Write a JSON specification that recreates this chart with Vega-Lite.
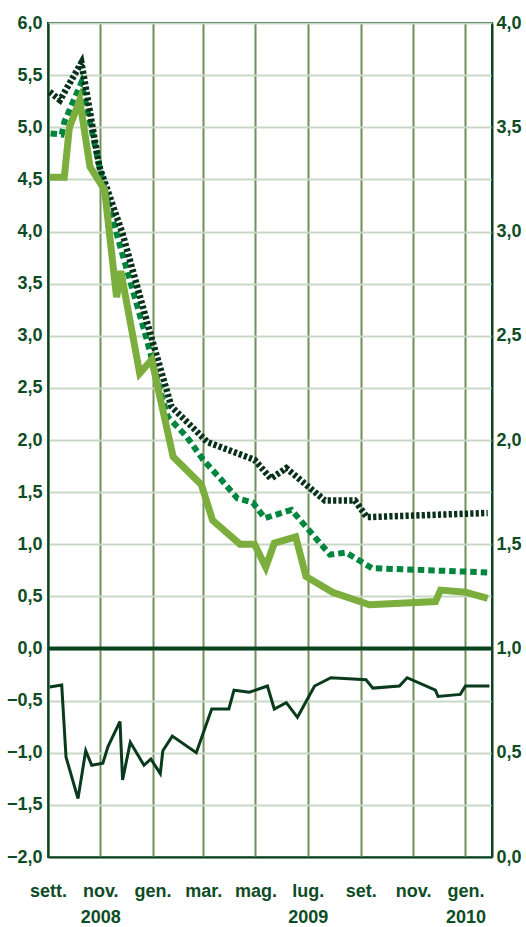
{
  "$schema": "https://vega.github.io/schema/vega-lite/v6.json",
  "width": 444,
  "height": 834,
  "autosize": {"type": "none"},
  "padding": {"left": 48, "top": 23, "right": 34, "bottom": 70},
  "background": "white",
  "config": {
    "view": {"stroke": "#0b4220", "strokeWidth": 2},
    "axis": {
      "labelFont": "Liberation Sans",
      "labelFontSize": 18,
      "labelFontWeight": "bold",
      "labelColor": "#0e4c25",
      "ticks": false,
      "tickSize": 0,
      "domainColor": "#0b4220",
      "domainWidth": 2,
      "title": null
    }
  },
  "data": {
    "values": [
      {"series": "solid", "date": "2008-09-03", "value": 4.52},
      {"series": "solid", "date": "2008-09-20", "value": 4.52},
      {"series": "solid", "date": "2008-09-26", "value": 5.0},
      {"series": "solid", "date": "2008-10-08", "value": 5.26},
      {"series": "solid", "date": "2008-10-20", "value": 4.62},
      {"series": "solid", "date": "2008-11-06", "value": 4.4},
      {"series": "solid", "date": "2008-11-20", "value": 3.37},
      {"series": "solid", "date": "2008-11-25", "value": 3.62},
      {"series": "solid", "date": "2008-12-17", "value": 2.64},
      {"series": "solid", "date": "2008-12-31", "value": 2.77},
      {"series": "solid", "date": "2009-01-25", "value": 1.84},
      {"series": "solid", "date": "2009-02-27", "value": 1.57},
      {"series": "solid", "date": "2009-03-12", "value": 1.23},
      {"series": "solid", "date": "2009-04-13", "value": 1.0},
      {"series": "solid", "date": "2009-04-30", "value": 1.0},
      {"series": "solid", "date": "2009-05-13", "value": 0.78},
      {"series": "solid", "date": "2009-05-23", "value": 1.01},
      {"series": "solid", "date": "2009-06-17", "value": 1.07},
      {"series": "solid", "date": "2009-06-29", "value": 0.69},
      {"series": "solid", "date": "2009-07-30", "value": 0.54},
      {"series": "solid", "date": "2009-09-11", "value": 0.42},
      {"series": "solid", "date": "2009-11-27", "value": 0.45},
      {"series": "solid", "date": "2009-12-03", "value": 0.56},
      {"series": "solid", "date": "2010-01-01", "value": 0.54},
      {"series": "solid", "date": "2010-01-27", "value": 0.48},

      {"series": "dotted", "date": "2008-09-03", "value": 5.34},
      {"series": "dotted", "date": "2008-09-15", "value": 5.26},
      {"series": "dotted", "date": "2008-10-10", "value": 5.62},
      {"series": "dotted", "date": "2008-10-31", "value": 4.62},
      {"series": "dotted", "date": "2008-11-27", "value": 3.98},
      {"series": "dotted", "date": "2008-12-29", "value": 3.03},
      {"series": "dotted", "date": "2009-01-23", "value": 2.32},
      {"series": "dotted", "date": "2009-03-06", "value": 1.98},
      {"series": "dotted", "date": "2009-04-30", "value": 1.81},
      {"series": "dotted", "date": "2009-05-19", "value": 1.63},
      {"series": "dotted", "date": "2009-06-06", "value": 1.73},
      {"series": "dotted", "date": "2009-07-21", "value": 1.42},
      {"series": "dotted", "date": "2009-08-25", "value": 1.42},
      {"series": "dotted", "date": "2009-09-08", "value": 1.26},
      {"series": "dotted", "date": "2010-01-27", "value": 1.3},

      {"series": "dashed", "date": "2008-09-04", "value": 4.94},
      {"series": "dashed", "date": "2008-09-17", "value": 4.93},
      {"series": "dashed", "date": "2008-09-20", "value": 5.05},
      {"series": "dashed", "date": "2008-10-10", "value": 5.43},
      {"series": "dashed", "date": "2008-11-04", "value": 4.47},
      {"series": "dashed", "date": "2008-11-20", "value": 3.98},
      {"series": "dashed", "date": "2008-12-23", "value": 3.03},
      {"series": "dashed", "date": "2009-01-13", "value": 2.38},
      {"series": "dashed", "date": "2009-01-19", "value": 2.22},
      {"series": "dashed", "date": "2009-02-10", "value": 2.03},
      {"series": "dashed", "date": "2009-03-01", "value": 1.81},
      {"series": "dashed", "date": "2009-03-21", "value": 1.63},
      {"series": "dashed", "date": "2009-04-10", "value": 1.44},
      {"series": "dashed", "date": "2009-04-28", "value": 1.4},
      {"series": "dashed", "date": "2009-05-12", "value": 1.25},
      {"series": "dashed", "date": "2009-06-12", "value": 1.33},
      {"series": "dashed", "date": "2009-07-27", "value": 0.9},
      {"series": "dashed", "date": "2009-08-15", "value": 0.92},
      {"series": "dashed", "date": "2009-09-14", "value": 0.77},
      {"series": "dashed", "date": "2010-01-27", "value": 0.73},

      {"series": "thin", "date": "2008-09-03", "value": 0.815},
      {"series": "thin", "date": "2008-09-17", "value": 0.825},
      {"series": "thin", "date": "2008-09-22", "value": 0.48},
      {"series": "thin", "date": "2008-10-06", "value": 0.28},
      {"series": "thin", "date": "2008-10-15", "value": 0.51},
      {"series": "thin", "date": "2008-10-22", "value": 0.44},
      {"series": "thin", "date": "2008-11-04", "value": 0.45},
      {"series": "thin", "date": "2008-11-10", "value": 0.53},
      {"series": "thin", "date": "2008-11-24", "value": 0.65},
      {"series": "thin", "date": "2008-11-27", "value": 0.37},
      {"series": "thin", "date": "2008-12-06", "value": 0.55},
      {"series": "thin", "date": "2008-12-22", "value": 0.44},
      {"series": "thin", "date": "2008-12-30", "value": 0.47},
      {"series": "thin", "date": "2009-01-10", "value": 0.4},
      {"series": "thin", "date": "2009-01-13", "value": 0.51},
      {"series": "thin", "date": "2009-01-24", "value": 0.58},
      {"series": "thin", "date": "2009-02-21", "value": 0.5},
      {"series": "thin", "date": "2009-03-11", "value": 0.71},
      {"series": "thin", "date": "2009-03-31", "value": 0.71},
      {"series": "thin", "date": "2009-04-06", "value": 0.8},
      {"series": "thin", "date": "2009-04-24", "value": 0.79},
      {"series": "thin", "date": "2009-05-15", "value": 0.82},
      {"series": "thin", "date": "2009-05-23", "value": 0.71},
      {"series": "thin", "date": "2009-06-06", "value": 0.74},
      {"series": "thin", "date": "2009-06-19", "value": 0.67},
      {"series": "thin", "date": "2009-07-09", "value": 0.82},
      {"series": "thin", "date": "2009-07-28", "value": 0.86},
      {"series": "thin", "date": "2009-09-07", "value": 0.85},
      {"series": "thin", "date": "2009-09-15", "value": 0.81},
      {"series": "thin", "date": "2009-10-16", "value": 0.82},
      {"series": "thin", "date": "2009-10-25", "value": 0.86},
      {"series": "thin", "date": "2009-11-27", "value": 0.8},
      {"series": "thin", "date": "2009-11-30", "value": 0.77},
      {"series": "thin", "date": "2009-12-26", "value": 0.78},
      {"series": "thin", "date": "2010-01-01", "value": 0.82},
      {"series": "thin", "date": "2010-01-29", "value": 0.82}
    ]
  },
  "encoding": {
    "x": {
      "field": "date",
      "type": "temporal",
      "scale": {
        "type": "utc",
        "domain": [
          {"year": 2008, "month": 9, "date": 1, "utc": true},
          {"year": 2010, "month": 2, "date": 1, "utc": true}
        ]
      },
      "axis": {
        "values": [
          {"year": 2008, "month": 9, "date": 1, "utc": true},
          {"year": 2008, "month": 11, "date": 1, "utc": true},
          {"year": 2009, "month": 1, "date": 1, "utc": true},
          {"year": 2009, "month": 3, "date": 1, "utc": true},
          {"year": 2009, "month": 5, "date": 1, "utc": true},
          {"year": 2009, "month": 7, "date": 1, "utc": true},
          {"year": 2009, "month": 9, "date": 1, "utc": true},
          {"year": 2009, "month": 11, "date": 1, "utc": true},
          {"year": 2010, "month": 1, "date": 1, "utc": true}
        ],
        "grid": true,
        "gridColor": "#6f8f5b",
        "gridWidth": 2,
        "labelFlush": false,
        "labelOverlap": false,
        "labelPadding": 25,
        "labelLineHeight": 26,
        "labelBaseline": "top",
        "labelAlign": "center",
        "labelExpr": "utcyear(datum.value)==2008 && utcmonth(datum.value)==8 ? 'sett.' : utcyear(datum.value)==2008 && utcmonth(datum.value)==10 ? ['nov.','2008'] : utcmonth(datum.value)==6 ? ['lug.','2009'] : utcyear(datum.value)==2010 ? ['gen.','2010'] : ['gen.','feb.','mar.','apr.','mag.','giu.','lug.','ago.','set.','ott.','nov.','dic.'][utcmonth(datum.value)]"
      }
    }
  },
  "layer": [
    {
      "layer": [
        {
          "transform": [{"filter": "datum.series == 'dashed'"}],
          "mark": {"type": "line", "color": "#00853e", "strokeWidth": 6, "strokeDash": [6.5, 4], "strokeJoin": "miter"},
          "encoding": {
            "y": {
              "field": "value",
              "type": "quantitative",
              "scale": {"domain": [-2, 6], "nice": false, "zero": false},
              "axis": {
                "values": [-2, -1.5, -1, -0.5, 0, 0.5, 1, 1.5, 2, 2.5, 3, 3.5, 4, 4.5, 5, 5.5, 6],
                "grid": true,
                "gridColor": "#c9d8c5",
                "gridWidth": 2,
                "labelPadding": 6,
                "labelExpr": "replace(format(datum.value, '.1f'), '.', ',')"
              }
            }
          }
        },
        {
          "transform": [{"filter": "datum.series == 'dotted'"}],
          "mark": {"type": "line", "color": "#08301a", "strokeWidth": 6.5, "strokeDash": [3.2, 2.2], "strokeJoin": "miter"},
          "encoding": {
            "y": {"field": "value", "type": "quantitative"}
          }
        },
        {
          "transform": [{"filter": "datum.series == 'solid'"}],
          "mark": {"type": "line", "color": "#7bae3c", "strokeWidth": 7, "strokeJoin": "miter"},
          "encoding": {
            "y": {"field": "value", "type": "quantitative"}
          }
        },
        {
          "data": {"values": [{}]},
          "mark": {"type": "rule", "color": "#0b4220", "strokeWidth": 4},
          "encoding": {
            "x": {"value": 0},
            "x2": {"value": "width"},
            "y": {"datum": 0, "type": "quantitative"}
          }
        }
      ]
    },
    {
      "transform": [{"filter": "datum.series == 'thin'"}],
      "mark": {"type": "line", "color": "#093a1c", "strokeWidth": 3, "strokeJoin": "miter"},
      "encoding": {
        "y": {
          "field": "value",
          "type": "quantitative",
          "scale": {"domain": [0, 4], "nice": false, "zero": false},
          "axis": {
            "orient": "right",
            "values": [0, 0.5, 1, 1.5, 2, 2.5, 3, 3.5, 4],
            "grid": false,
            "labelPadding": 4,
            "labelExpr": "replace(format(datum.value, '.1f'), '.', ',')"
          }
        }
      }
    }
  ],
  "resolve": {"scale": {"y": "independent"}, "axis": {"y": "independent"}}
}
